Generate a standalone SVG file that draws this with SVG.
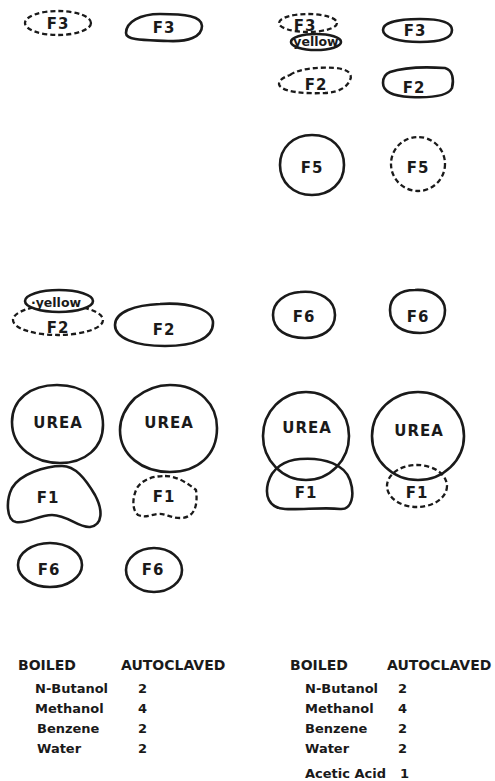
<svg xmlns="http://www.w3.org/2000/svg" width="495" height="781" viewBox="0 0 495 781">
<style>
.s{fill:none;stroke:#1a1a1a;stroke-width:2.6;stroke-linejoin:round}
.d{fill:none;stroke:#1a1a1a;stroke-width:2.3;stroke-dasharray:5 3}
.w{fill:#fff}
.l{font-family:"DejaVu Sans","Liberation Sans",sans-serif;font-weight:700;font-size:15px;fill:#1a1a1a;text-anchor:middle;letter-spacing:1px}
.y{font-family:"DejaVu Sans","Liberation Sans",sans-serif;font-weight:700;font-size:12.5px;fill:#1a1a1a;text-anchor:middle}
.h{font-family:"DejaVu Sans","Liberation Sans",sans-serif;font-weight:700;font-size:14px;fill:#1a1a1a}
.t{font-family:"DejaVu Sans","Liberation Sans",sans-serif;font-weight:700;font-size:13px;fill:#1a1a1a}
</style>
<rect width="495" height="781" fill="#fff"/>
<g id="connectors"></g>
<g id="f3-dashed-a"><ellipse class="d" cx="58" cy="23" rx="33" ry="12"/><text class="l" x="58" y="29">F3</text></g>
<g id="f3-solid-a"><path class="s" d="M126,33 C126,22 140,14 160,14 C185,14 202,16 202,26 C202,37 188,42 168,41 C148,40 126,41 126,33 Z"/><text class="l" x="164" y="33">F3</text></g>
<g id="f3-dashed-b"><ellipse class="d" cx="308" cy="23" rx="29" ry="9"/><text class="l" x="305" y="31">F3</text></g>
<g id="yellow-b"><ellipse class="s w" cx="316" cy="42" rx="25" ry="8"/><text class="y" x="316" y="46">yellow</text></g>
<g id="f3-solid-b"><path class="s" d="M383,30 C383,22 400,19 420,19 C440,19 452,22 452,30 C452,38 440,42 420,42 C400,42 383,38 383,30 Z"/><text class="l" x="415" y="36">F3</text></g>
<g id="f2-dashed-b"><path class="d" d="M290,75 C300,68 320,67 335,68 C348,69 353,74 350,80 C347,87 340,92 325,93 C305,94 280,92 279,84 C279,80 284,77 290,75 Z"/><text class="l" x="316" y="90">F2</text></g>
<g id="f2-solid-b"><path class="s" d="M390,72 C405,67 430,67 445,68 C453,70 454,80 452,88 C448,96 430,98 410,97 C392,96 383,92 383,83 C383,78 385,74 390,72 Z"/><text class="l" x="414" y="93">F2</text></g>
<g id="f5-solid"><path class="s" d="M312,135 C332,135 344,148 344,165 C344,183 330,195 312,195 C293,195 280,182 280,165 C280,148 293,135 312,135 Z"/><text class="l" x="312" y="173">F5</text></g>
<g id="f5-dashed"><circle class="d" cx="418" cy="164" r="27"/><text class="l" x="418" y="173">F5</text></g>
<g id="f2-dashed-a"><ellipse class="d" cx="58" cy="320" rx="45" ry="15"/><text class="l" x="58" y="333">F2</text></g>
<g id="yellow-a"><ellipse class="s w" cx="59" cy="301" rx="34" ry="11"/><text class="y" x="56" y="307">·yellow</text></g>
<g id="f2-solid-a"><path class="s" d="M160,304 C190,302 213,310 213,323 C213,338 195,346 165,346 C135,346 115,338 115,325 C115,312 135,305 160,304 Z"/><text class="l" x="164" y="335">F2</text></g>
<g id="f6-b1"><path class="s" d="M300,292 C320,290 335,300 335,315 C335,330 322,338 305,338 C287,338 273,330 273,315 C273,302 285,293 300,292 Z"/><text class="l" x="304" y="322">F6</text></g>
<g id="f6-b2"><path class="s" d="M415,290 C432,289 445,298 445,310 C445,325 435,333 420,333 C402,333 390,325 390,310 C390,297 400,290 415,290 Z"/><text class="l" x="418" y="322">F6</text></g>
<g id="urea-a1"><path class="s" d="M57,385 C85,385 103,400 103,425 C103,448 85,463 60,463 C35,463 12,448 12,422 C12,400 30,385 57,385 Z"/><text class="l" x="58" y="428">UREA</text></g>
<g id="f1-a1"><path class="s" d="M62,466 C75,466 85,478 95,495 C103,510 103,525 90,527 C78,528 68,515 52,515 C38,515 28,524 16,522 C6,520 6,500 12,488 C20,474 45,466 62,466 Z"/><text class="l" x="48" y="503">F1</text></g>
<g id="urea-a2"><path class="s" d="M170,385 C200,385 217,405 217,428 C217,455 198,472 170,472 C142,472 120,455 120,430 C120,415 128,405 135,398 C145,390 155,385 170,385 Z"/><text class="l" x="169" y="428">UREA</text></g>
<g id="f1-a2"><path class="d" d="M165,476 C178,476 190,485 196,490 C198,505 195,518 180,518 C170,518 165,513 158,514 C150,515 145,518 138,515 C132,510 132,498 137,488 C142,480 152,476 165,476 Z"/><text class="l" x="164" y="502">F1</text></g>
<g id="urea-b1"><ellipse class="s" cx="306" cy="436" rx="43" ry="44"/><text class="l" x="307" y="433">UREA</text></g>
<g id="f1-b1"><path class="s" d="M300,459 C325,457 345,465 350,480 C355,495 352,510 340,509 C325,507 300,510 285,509 C268,508 265,495 268,483 C272,468 285,460 300,459 Z"/><text class="l" x="306" y="498">F1</text></g>
<g id="urea-b2"><ellipse class="s" cx="418" cy="436" rx="46" ry="44"/><text class="l" x="419" y="436">UREA</text></g>
<g id="f1-b2"><ellipse class="d" cx="417" cy="486" rx="30" ry="21"/><text class="l" x="417" y="498">F1</text></g>
<g id="f6-a1"><ellipse class="s" cx="50" cy="565" rx="32" ry="22"/><text class="l" x="49" y="575">F6</text></g>
<g id="f6-a2"><ellipse class="s" cx="154" cy="570" rx="28" ry="22"/><text class="l" x="153" y="575">F6</text></g>
<g id="table-left">
<text class="h" x="18" y="670">BOILED</text><text class="h" x="121" y="670">AUTOCLAVED</text>
<text class="t" x="35" y="693">N-Butanol</text><text class="t" x="138" y="693">2</text>
<text class="t" x="35" y="713">Methanol</text><text class="t" x="138" y="713">4</text>
<text class="t" x="37" y="733">Benzene</text><text class="t" x="138" y="733">2</text>
<text class="t" x="37" y="753">Water</text><text class="t" x="138" y="753">2</text>
</g>
<g id="table-right">
<text class="h" x="290" y="670">BOILED</text><text class="h" x="387" y="670">AUTOCLAVED</text>
<text class="t" x="305" y="693">N-Butanol</text><text class="t" x="398" y="693">2</text>
<text class="t" x="305" y="713">Methanol</text><text class="t" x="398" y="713">4</text>
<text class="t" x="305" y="733">Benzene</text><text class="t" x="398" y="733">2</text>
<text class="t" x="305" y="753">Water</text><text class="t" x="398" y="753">2</text>
<text class="t" x="305" y="778">Acetic Acid</text><text class="t" x="400" y="778">1</text>
</g>
</svg>
